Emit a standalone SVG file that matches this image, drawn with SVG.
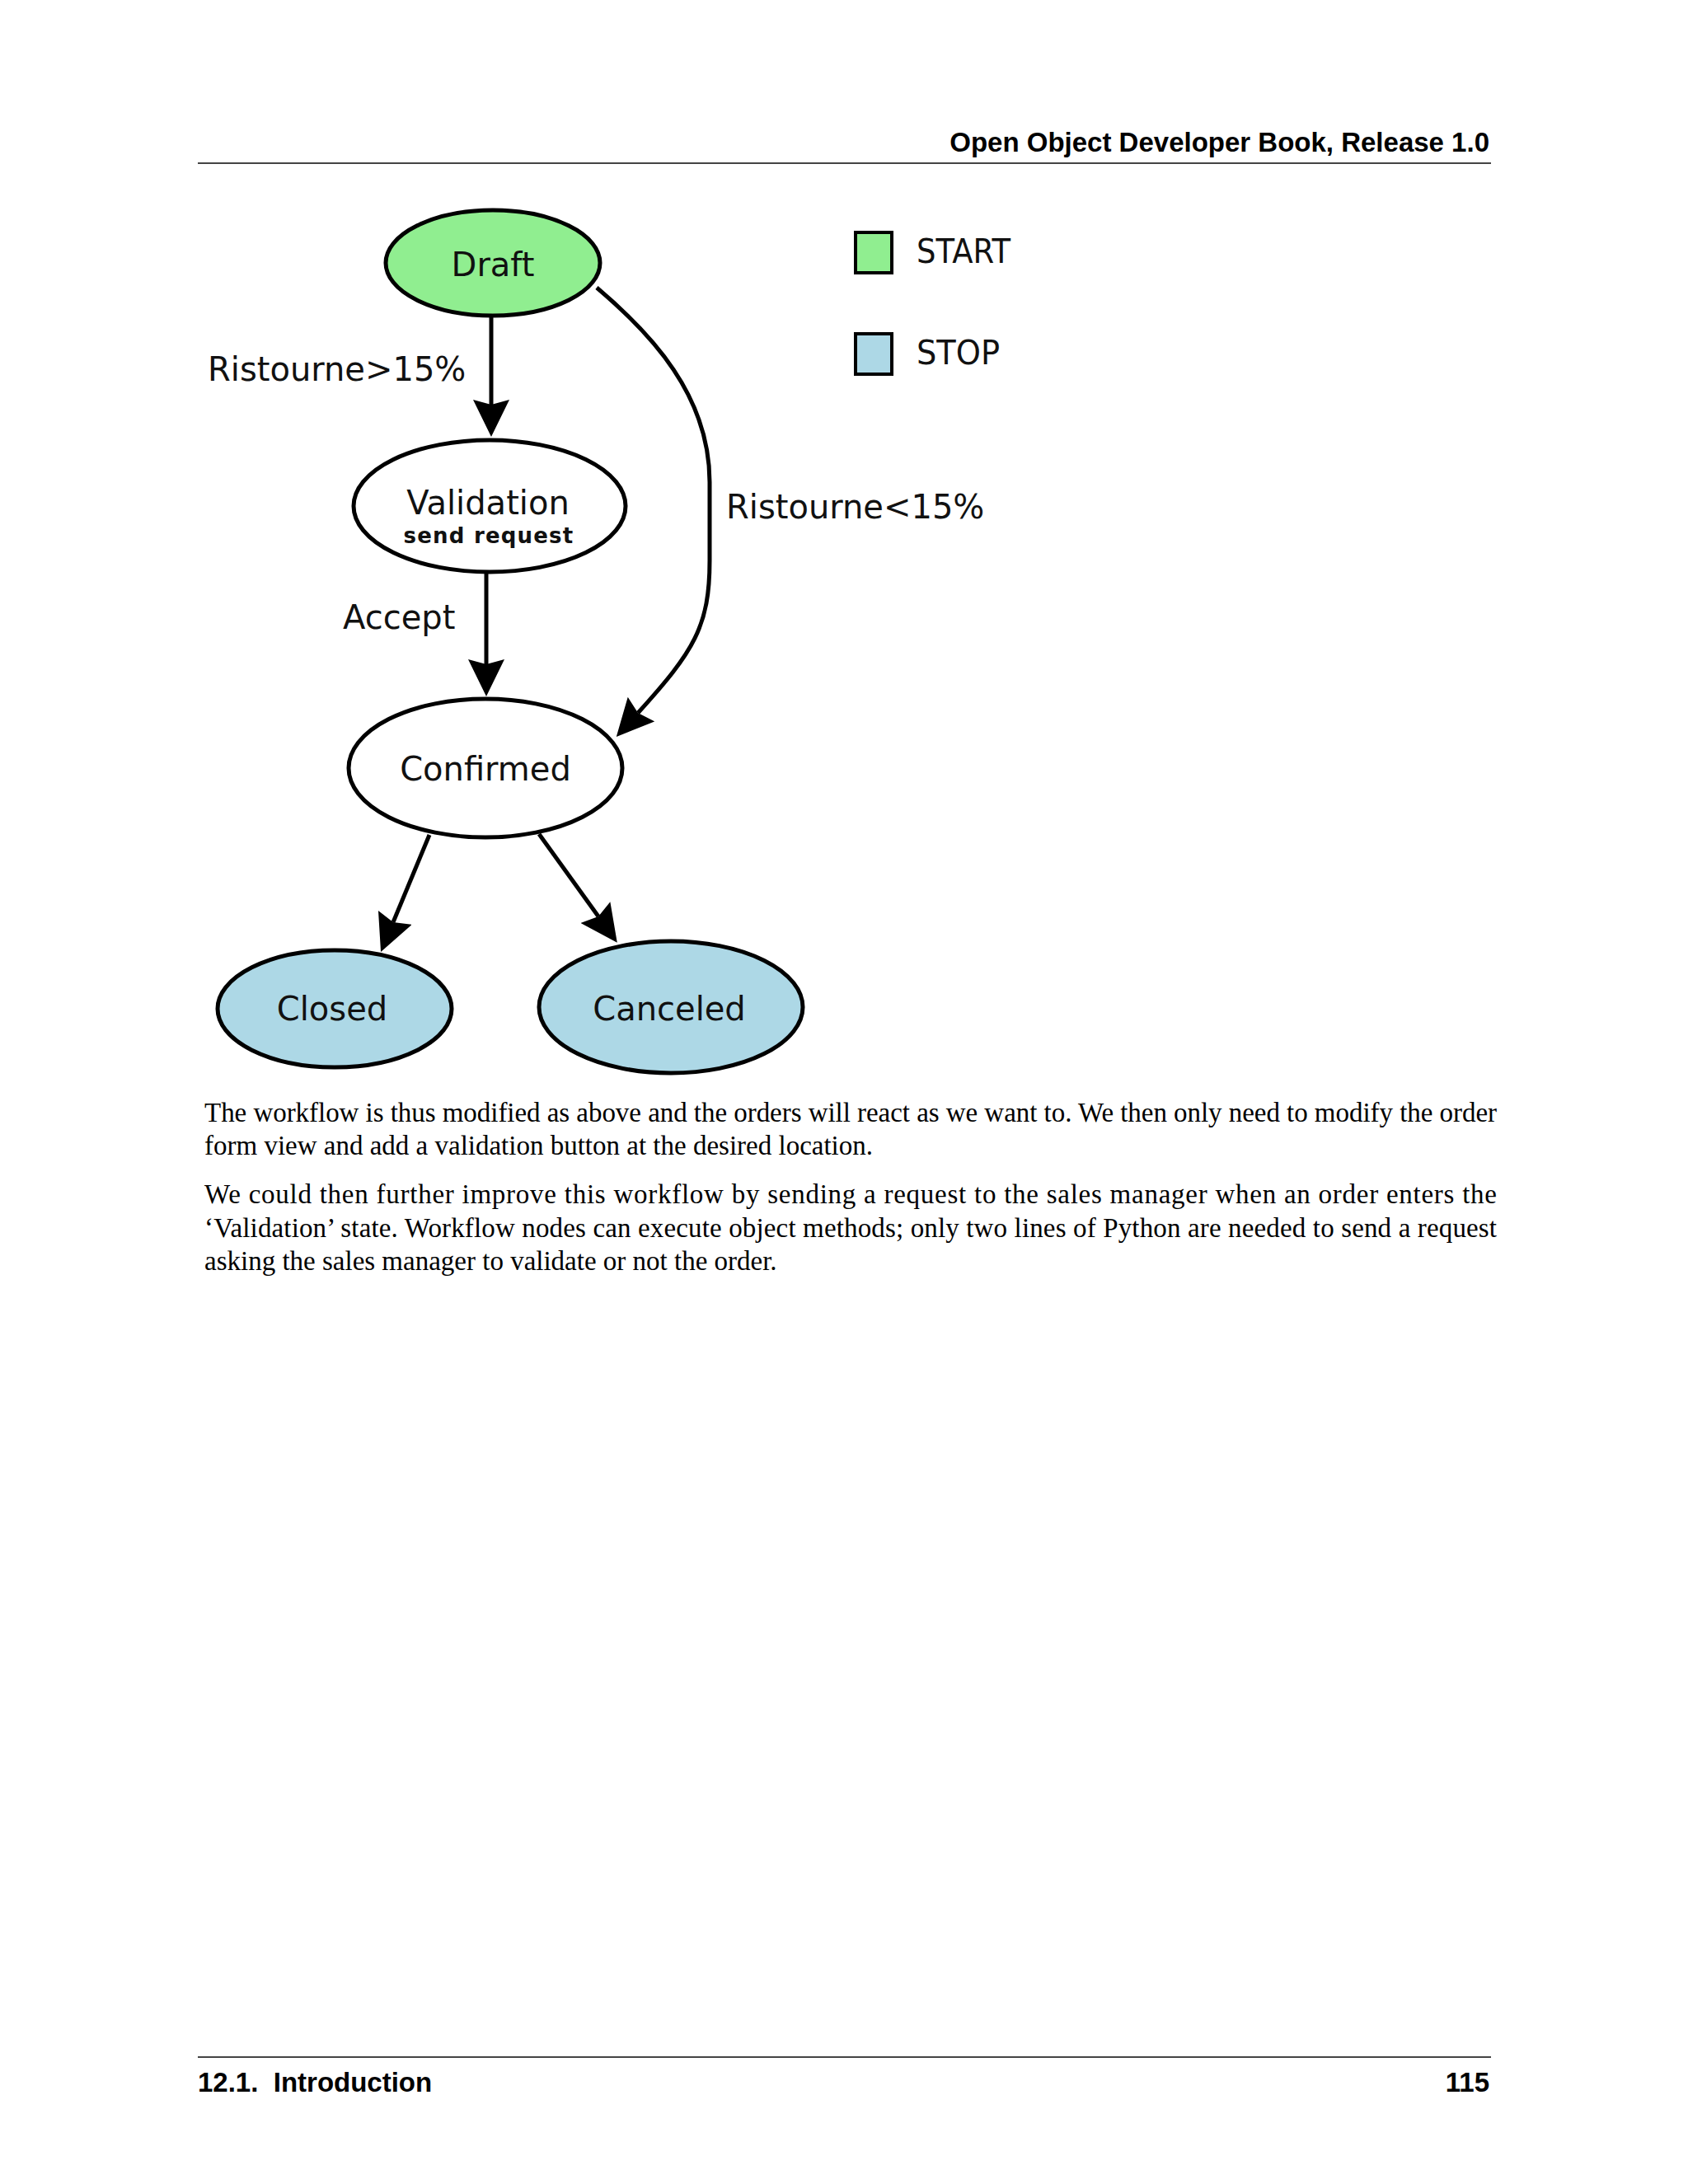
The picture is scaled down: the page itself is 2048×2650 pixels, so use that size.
<svg xmlns="http://www.w3.org/2000/svg" width="2048" height="2650" viewBox="0 0 2048 2650">
<defs>
<style>
.hdr{font-family:"Liberation Sans",Arial,sans-serif;font-weight:bold;font-size:33px;fill:#000}
.lbl{font-family:"DejaVu Sans",sans-serif;font-size:40px;fill:#111}
.sub{font-family:"DejaVu Sans",sans-serif;font-weight:bold;font-size:26px;letter-spacing:1.2px;fill:#111}
.node{stroke:#000;stroke-width:5}
.edge{fill:none;stroke:#000;stroke-width:5}
.body{font-family:"Liberation Serif","Times New Roman",serif;font-size:33px;fill:#000}
</style>
<marker id="arr" markerUnits="userSpaceOnUse" viewBox="0 0 45 44" refX="6" refY="22" markerWidth="45" markerHeight="44" orient="auto">
<path d="M0,0 L45,22 L0,44 L6,22 Z" fill="#000"/>
</marker>
</defs>
<rect width="2048" height="2650" fill="#fff"/>

<g id="header">
<text class="hdr" x="1807" y="184" text-anchor="end">Open Object Developer Book, Release 1.0</text>
<line x1="240" y1="198" x2="1809" y2="198" stroke="#444" stroke-width="2"/>
</g>

<g id="connectors">
<line class="edge" x1="596" y1="384" x2="596" y2="491" marker-end="url(#arr)"/>
<line class="edge" x1="590" y1="695" x2="590" y2="806" marker-end="url(#arr)"/>
<path class="edge" stroke-width="4" d="M724,349 C790,405 861,480 861,585 L861,680 C861,760 842,790 774,865" marker-end="url(#arr)"/>
<line class="edge" stroke-width="4" x1="521" y1="1013" x2="477" y2="1119" marker-end="url(#arr)"/>
<line class="edge" stroke-width="4" x1="654" y1="1012" x2="726" y2="1112" marker-end="url(#arr)"/>
<text class="lbl" x="252" y="462">Ristourne&gt;15%</text>
<text class="lbl" x="416" y="763">Accept</text>
<text class="lbl" x="881" y="629">Ristourne&lt;15%</text>
</g>

<g id="node-draft">
<ellipse class="node" cx="598" cy="319" rx="130" ry="64" fill="#90ee90"/>
<text class="lbl" x="598" y="335" text-anchor="middle">Draft</text>
</g>
<g id="node-validation">
<ellipse class="node" cx="594" cy="614" rx="165" ry="80" fill="#fff"/>
<text class="lbl" x="592" y="624" text-anchor="middle">Validation</text>
<text class="sub" x="593" y="659" text-anchor="middle">send request</text>
</g>
<g id="node-confirmed">
<ellipse class="node" cx="589" cy="932" rx="166" ry="84" fill="#fff"/>
<text class="lbl" x="589" y="947" text-anchor="middle">Confirmed</text>
</g>
<g id="node-closed">
<ellipse class="node" cx="406" cy="1224" rx="142" ry="71" fill="#add8e6"/>
<text class="lbl" x="403" y="1238" text-anchor="middle">Closed</text>
</g>
<g id="node-canceled">
<ellipse class="node" cx="814" cy="1222" rx="160" ry="80" fill="#add8e6"/>
<text class="lbl" x="812" y="1238" text-anchor="middle">Canceled</text>
</g>

<g id="legend">
<rect x="1038" y="282" width="44" height="49" fill="#90ee90" stroke="#000" stroke-width="4"/>
<text class="lbl" x="1112" y="319" textLength="114" lengthAdjust="spacingAndGlyphs">START</text>
<rect x="1038" y="405" width="44" height="49" fill="#add8e6" stroke="#000" stroke-width="4"/>
<text class="lbl" x="1112" y="442" textLength="101" lengthAdjust="spacingAndGlyphs">STOP</text>
</g>

<g id="body">
<text class="body" x="248" y="1361" textLength="1568" lengthAdjust="spacing">The workflow is thus modified as above and the orders will react as we want to. We then only need to modify the order</text>
<text class="body" x="248" y="1401">form view and add a validation button at the desired location.</text>
<text class="body" x="248" y="1460" textLength="1568" lengthAdjust="spacing">We could then further improve this workflow by sending a request to the sales manager when an order enters the</text>
<text class="body" x="248" y="1501" textLength="1568" lengthAdjust="spacing">‘Validation’ state. Workflow nodes can execute object methods; only two lines of Python are needed to send a request</text>
<text class="body" x="248" y="1541">asking the sales manager to validate or not the order.</text>
</g>

<g id="footer">
<line x1="240" y1="2496" x2="1809" y2="2496" stroke="#444" stroke-width="2"/>
<text class="hdr" x="240" y="2538" xml:space="preserve">12.1.  Introduction</text>
<text class="hdr" x="1807" y="2538" text-anchor="end">115</text>
</g>
</svg>
